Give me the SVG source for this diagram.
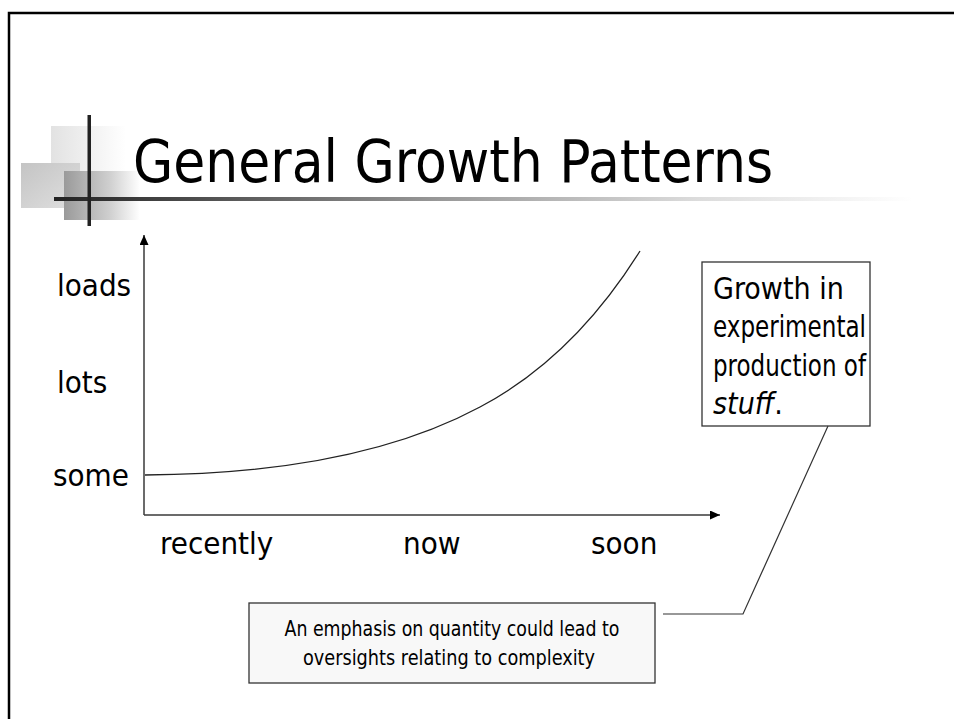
<svg xmlns="http://www.w3.org/2000/svg" width="954" height="719" viewBox="0 0 954 719">
<defs>
<style>
text{font-family:"DejaVu Sans Condensed","DejaVu Sans",Tahoma,sans-serif;font-stretch:condensed;fill:#000}
.lbl{font-size:31px}
.cap{font-size:30px}
.note{font-size:22px}
.axis{stroke:#3a3a3a;stroke-width:1.5;fill:none}
.box{stroke:#333;stroke-width:1.3}
</style>
<marker id="arr" viewBox="0 0 10 10" refX="10" refY="5" markerWidth="10" markerHeight="9" markerUnits="userSpaceOnUse" orient="auto" preserveAspectRatio="none">
<path d="M0,0 L10,5 L0,10 z" fill="#000"/>
</marker>
<linearGradient id="gA" x1="0" y1="0" x2="1" y2="0"><stop offset="0" stop-color="#e2e2e2"/><stop offset="1" stop-color="#fff"/></linearGradient>
<linearGradient id="gB" x1="0" y1="0" x2="1" y2="1"><stop offset="0" stop-color="#c4c4c4"/><stop offset="1" stop-color="#e0e0e0"/></linearGradient>
<linearGradient id="gC" x1="0" y1="0" x2="1" y2="0"><stop offset="0" stop-color="#9a9a9a"/><stop offset="0.6" stop-color="#cfcfcf"/><stop offset="1" stop-color="#fff"/></linearGradient>
<linearGradient id="gR" x1="54" y1="0" x2="913" y2="0" gradientUnits="userSpaceOnUse"><stop offset="0" stop-color="#222"/><stop offset="0.45" stop-color="#999"/><stop offset="0.75" stop-color="#dcdcdc"/><stop offset="1" stop-color="#fff"/></linearGradient>
</defs>
<rect width="954" height="719" fill="#fff"/>
<polyline points="9,719 9,13 954,13" fill="none" stroke="#000" stroke-width="2.5"/>

<g id="decoration">
<rect x="51" y="126" width="75" height="50" fill="url(#gA)"/>
<rect x="21" y="163" width="59" height="45" fill="url(#gB)"/>
<rect x="64" y="171" width="76" height="49" fill="url(#gC)"/>
<rect x="54" y="197" width="859" height="4" fill="url(#gR)"/>
<rect x="87.5" y="115" width="3.5" height="111" fill="#222"/>
</g>

<g id="title">
<text x="133" y="182" font-size="59" textLength="640" lengthAdjust="spacingAndGlyphs">General Growth Patterns</text>
</g>

<g id="axes">
<line class="axis" x1="144" y1="515" x2="144" y2="235" marker-end="url(#arr)"/>
<line class="axis" x1="144" y1="515" x2="720" y2="515" marker-end="url(#arr)"/>
</g>

<g id="curve">
<path d="M145,475 C290,474 400,450 480,407 C550,370 600,315 640,251" fill="none" stroke="#222" stroke-width="1.3"/>
</g>

<g id="y-labels">
<text class="lbl" x="57" y="296">loads</text>
<text class="lbl" x="57" y="393">lots</text>
<text class="lbl" x="53" y="486">some</text>
</g>

<g id="x-labels">
<text class="lbl" x="160" y="554">recently</text>
<text class="lbl" x="403" y="554">now</text>
<text class="lbl" x="591" y="554">soon</text>
</g>

<g id="callout">
<rect class="box" x="702" y="262" width="168" height="164" fill="#fff"/>
<text class="cap" x="713" y="299">Growth in</text>
<text class="cap" x="713" y="337" textLength="153" lengthAdjust="spacingAndGlyphs">experimental</text>
<text class="cap" x="713" y="376" textLength="153" lengthAdjust="spacingAndGlyphs">production of</text>
<text class="cap" x="713" y="414"><tspan font-style="italic">stuff</tspan>.</text>
</g>

<g id="note">
<rect class="box" x="249" y="603" width="406" height="80" fill="#f8f8f8"/>
<text class="note" x="452" y="636" text-anchor="middle" textLength="335" lengthAdjust="spacingAndGlyphs">An emphasis on quantity could lead to</text>
<text class="note" x="449" y="665" text-anchor="middle" textLength="292" lengthAdjust="spacingAndGlyphs">oversights relating to complexity</text>
</g>

<g id="connectors">
<polyline points="828,426 743,614 663,614" fill="none" stroke="#333" stroke-width="1.2"/>
</g>
</svg>
